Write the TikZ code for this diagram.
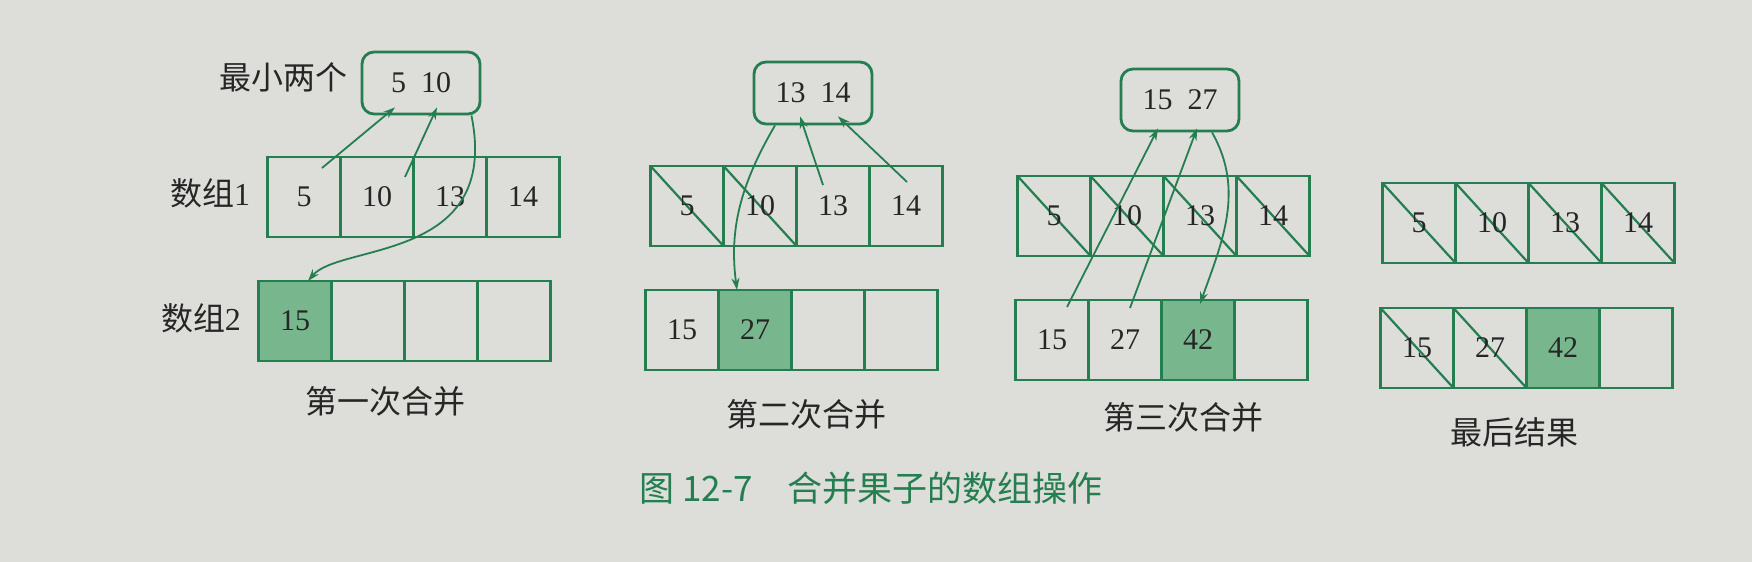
\documentclass[tikz,border=0pt]{standalone}
\usepackage{fontspec}
\setmainfont{Liberation Serif}
\newfontfamily\cjk{Noto Sans CJK SC}
\usetikzlibrary{arrows.meta, positioning}
\definecolor{bookgreen}{RGB}{36, 126, 80}
\definecolor{cellfill}{RGB}{120, 182, 142}
\definecolor{paper}{RGB}{221, 221, 217}
\definecolor{inkgray}{RGB}{38, 38, 38}

\tikzset{
  cell/.style={draw=bookgreen, line width=1.3pt, minimum width=36.5pt, minimum height=40pt,
    inner sep=0pt, outer sep=0pt, text=inkgray, font=\fontsize{15}{18}\selectfont},
  usedcell/.style={cell, path picture={\draw[bookgreen, line width=1.1pt]
    (path picture bounding box.north west) -- (path picture bounding box.south east);}},
  newcell/.style={cell, fill=cellfill},
  pickbox/.style={draw=bookgreen, line width=1.4pt, rounded corners=6pt, minimum width=59pt,
    minimum height=31pt, text=inkgray, font=\fontsize{15}{18}\selectfont},
  tag/.style={text=inkgray, font=\cjk\fontsize{16}{19}\selectfont},
  move/.style={bookgreen, line width=0.9pt, -{Stealth[length=6pt, width=4pt]}}
}

\begin{document}
\begin{tikzpicture}[x=0.5pt, y=-0.5pt]
  % paper background, fixes the page size
  \fill[paper] (0,0) rectangle (1752,562);

  % Panel 1: first merge
  \node[pickbox] (p1box) at (421,83) {5\enspace 10};
  \node[tag] (minlab) at (283,77) {最小两个};
  \node[tag] (arr1lab) at (210,193) {数组{\rmfamily 1}};
  \node[tag] (arr2lab) at (201,318) {数组{\rmfamily 2}};
  \node[cell] (p1u1) at (304,197) {5};
  \node[cell, right=0pt of p1u1] (p1u2) {10};
  \node[cell, right=0pt of p1u2] (p1u3) {13};
  \node[cell, right=0pt of p1u3] (p1u4) {14};
  \node[newcell] (p1d1) at (295,321) {15};
  \node[cell, right=0pt of p1d1] (p1d2) {};
  \node[cell, right=0pt of p1d2] (p1d3) {};
  \node[cell, right=0pt of p1d3] (p1d4) {};
  \node[tag] (cap1) at (385,401) {第一次合并};
  % two smallest go up, their sum comes down
  \draw[move] ([shift={(18,11)}]p1u1.north) -- ([shift={(-26,-8)}]p1box.south);
  \draw[move] ([shift={(28,20)}]p1u2.north) -- ([shift={(16,-8)}]p1box.south);
  \draw[move] ([shift={(-10,0)}]p1box.south east)
    .. controls +(30,147) and +(32,-38) .. ([shift={(13,0)}]p1d1.north);

  % Panel 2: second merge
  \node[pickbox] (p2box) at (813,93) {13\enspace 14};
  \node[usedcell] (p2u1) at (687,206) {5};
  \node[usedcell, right=0pt of p2u1] (p2u2) {10};
  \node[cell, right=0pt of p2u2] (p2u3) {13};
  \node[cell, right=0pt of p2u3] (p2u4) {14};
  \node[cell] (p2d1) at (682,330) {15};
  \node[newcell, right=0pt of p2d1] (p2d2) {27};
  \node[cell, right=0pt of p2d2] (p2d3) {};
  \node[cell, right=0pt of p2d3] (p2d4) {};
  \node[tag] (cap2) at (806,414) {第二次合并};
  \draw[move] ([shift={(-10,19)}]p2u3.north) -- ([shift={(-13,-9)}]p2box.south);
  \draw[move] ([shift={(1,16)}]p2u4.north) -- ([shift={(25,-9)}]p2box.south);
  \draw[move] ([shift={(-38,0)}]p2box.south)
    .. controls +(-35,60) and +(-8,-60) .. ([shift={(-18,0)}]p2d2.north);

  % Panel 3: third merge
  \node[pickbox] (p3box) at (1180,100) {15\enspace 27};
  \node[usedcell] (p3u1) at (1054,216) {5};
  \node[usedcell, right=0pt of p3u1] (p3u2) {10};
  \node[usedcell, right=0pt of p3u2] (p3u3) {13};
  \node[usedcell, right=0pt of p3u3] (p3u4) {14};
  \node[cell] (p3d1) at (1052,340) {15};
  \node[cell, right=0pt of p3d1] (p3d2) {27};
  \node[newcell, right=0pt of p3d2] (p3d3) {42};
  \node[cell, right=0pt of p3d3] (p3d4) {};
  \node[tag] (cap3) at (1183,417) {第三次合并};
  \draw[move] ([shift={(15,7)}]p3d1.north) -- ([shift={(-22,-4)}]p3box.south);
  \draw[move] ([shift={(5,8)}]p3d2.north) -- ([shift={(17,-4)}]p3box.south);
  \draw[move] ([shift={(32,0)}]p3box.south)
    .. controls +(33,58) and +(22,-62) .. ([shift={(2,4)}]p3d3.north);

  % Panel 4: final state
  \node[usedcell] (p4u1) at (1419,223) {5};
  \node[usedcell, right=0pt of p4u1] (p4u2) {10};
  \node[usedcell, right=0pt of p4u2] (p4u3) {13};
  \node[usedcell, right=0pt of p4u3] (p4u4) {14};
  \node[usedcell] (p4d1) at (1417,348) {15};
  \node[usedcell, right=0pt of p4d1] (p4d2) {27};
  \node[newcell, right=0pt of p4d2] (p4d3) {42};
  \node[cell, right=0pt of p4d3] (p4d4) {};
  \node[tag] (cap4) at (1514,432) {最后结果};

  % figure caption
  \node[text=bookgreen, font=\cjk\fontsize{17.5}{20}\selectfont] (figcap) at (871,488)
    {图 12-7\quad 合并果子的数组操作};
\end{tikzpicture}
\end{document}
